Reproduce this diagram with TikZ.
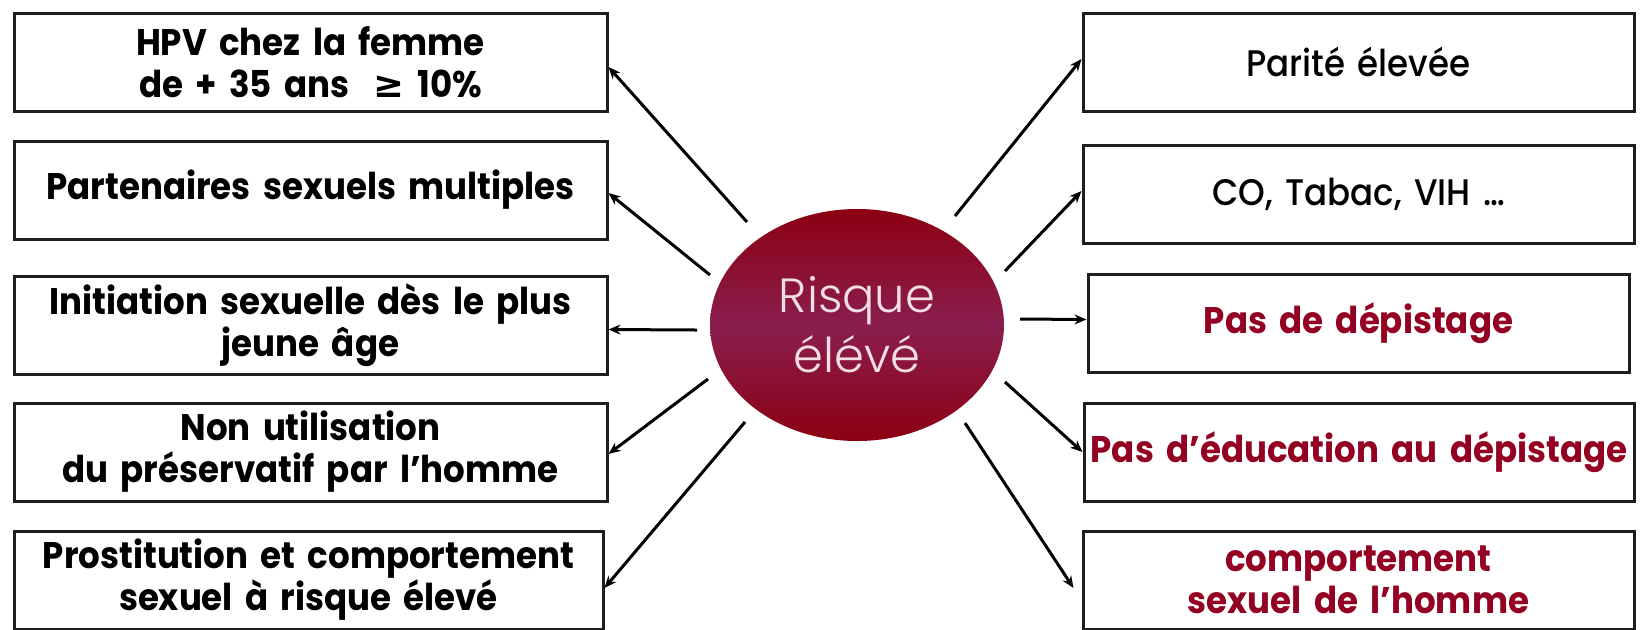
\documentclass[tikz,border=0pt]{standalone}
\usepackage{fontspec}
\setmainfont{Poppins}[FakeStretch=0.92]
\newfontfamily\medfont{Poppins Medium}[FakeStretch=0.92]
\newfontfamily\symfont{DejaVu Sans}
\newfontfamily\thinfont{Poppins Light}
\usetikzlibrary{arrows.meta,shapes.geometric}
\definecolor{rouge}{HTML}{930022}
\definecolor{darkred}{HTML}{8C0012}
\definecolor{plum}{HTML}{8A1E4E}
\definecolor{pinkwhite}{HTML}{F4DEE6}
\definecolor{boxline}{HTML}{1E1E1E}
\begin{document}
\begin{tikzpicture}[x=0.5pt,y=-0.5pt,
  box/.style={draw=boxline, line width=1.5pt, rectangle, inner sep=0pt,
    align=center, fill=white, minimum height=49pt},
  lbox/.style={box, minimum width=296.5pt, text width=296.5pt,
    font=\bfseries\fontsize{18.5}{21}\selectfont},
  rbox/.style={box, minimum width=275.5pt, text width=275.5pt,
    font=\medfont\fontsize{18.5}{21}\selectfont},
  redbox/.style={rbox, text=rouge, font=\bfseries\fontsize{18.5}{21}\selectfont},
  conn/.style={line width=1.5pt, -{Stealth[length=6pt,width=5pt]}},
  blob/.style={shape=ellipse, minimum width=147pt, minimum height=116pt, inner sep=0pt,
    top color=darkred, bottom color=darkred, middle color=plum,
    text=pinkwhite, align=center, font=\thinfont\fontsize{24}{30}\selectfont}
]
\useasboundingbox (0,0) rectangle (1645,629);

% centre
\node[blob] (c) at (857,325) {Risque\\élévé};

% left boxes
\node[lbox] (L1) at (310.5,62) {HPV chez la femme\\de + 35 ans \ {\symfont\bfseries ≥} 10\%};
\node[lbox] (L2) at (310.5,190) {Partenaires sexuels multiples};
\node[lbox] (L3) at (310.5,325.5) {Initiation sexuelle dès le plus\\jeune âge};
\node[lbox] (L4) at (310.5,452) {Non utilisation\\du préservatif par l'homme};
\node[lbox, minimum width=294.5pt, text width=294.5pt] (L5) at (308.5,580) {Prostitution et comportement\\sexuel à risque élevé};

% right boxes
\node[rbox] (R1) at (1358.5,62) {Parité élevée};
\node[rbox] (R2) at (1358.5,194) {CO, Tabac, VIH …};
\node[redbox, minimum width=270.5pt, text width=270.5pt] (R3) at (1358.5,323.5) {Pas de dépistage};
\node[redbox, minimum width=275pt, text width=275pt] (R4) at (1359,452) {\makebox[\linewidth][c]{Pas d’éducation au dépistage}};
\node[redbox] (R5) at (1358.5,580) {comportement\\sexuel de l'homme};

% start points of the connectors
\coordinate (s1) at (747,222);
\coordinate (s2) at (710,275);
\coordinate (s3) at (697,330);
\coordinate (s4) at (708,379);
\coordinate (s5) at (745,422);
\coordinate (t1) at (955,216);
\coordinate (t2) at (1005,271);
\coordinate (t3) at (1020,319);
\coordinate (t4) at (1005,382);
\coordinate (t5) at (965,423);

\draw[conn] (s1) -- ([yshift=-2.5pt]L1.east);
\draw[conn] (s2) -- ([yshift=-1.5pt]L2.east);
\draw[conn] (s3) -- ([yshift=-2pt]L3.east);
\draw[conn] (s4) -- ([yshift=-1pt]L4.east);
\draw[conn] (s5) -- ([yshift=-4pt]L5.east);
\draw[conn] (t1) -- ([yshift=1.5pt]R1.west);
\draw[conn] (t2) -- ([yshift=1.5pt]R2.west);
\draw[conn] (t3) -- ([yshift=2pt]R3.west);
\draw[conn] (t4) -- (R4.west);
\draw[conn] (t5) -- ([xshift=-4pt,yshift=-4pt]R5.west);
\end{tikzpicture}
\end{document}
